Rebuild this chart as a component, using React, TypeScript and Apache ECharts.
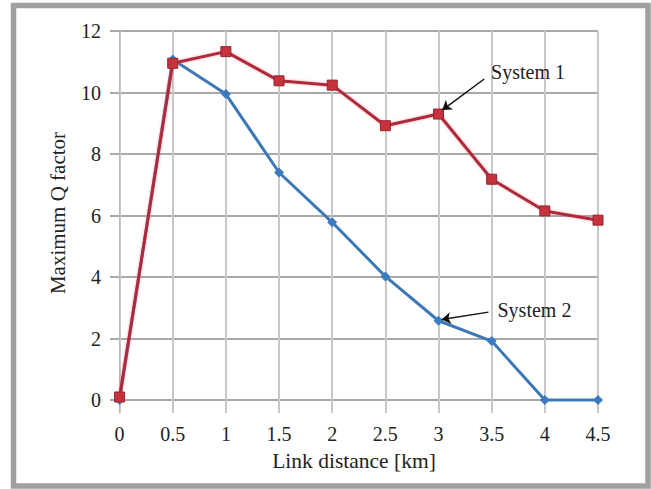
import React, { useEffect, useRef } from "react";
import * as echarts from "echarts";

const distances = [0, 0.5, 1, 1.5, 2, 2.5, 3, 3.5, 4, 4.5];
const system1 = [0.1, 10.95, 11.33, 10.38, 10.24, 8.92, 9.3, 7.18, 6.15, 5.85];
const system2 = [0, 11.07, 9.95, 7.4, 5.78, 4.02, 2.58, 1.92, 0, 0];
const xTicks = [0, 0.5, 1, 1.5, 2, 2.5, 3, 3.5, 4, 4.5];
const yTicks = [0, 2, 4, 6, 8, 10, 12];

const FONT = "'Liberation Serif', 'DejaVu Serif', serif";

export default function App() {
  const ref = useRef<HTMLDivElement>(null);

  useEffect(() => {
    document.body.style.margin = "0";
    if (!ref.current) return;
    const chart = echarts.init(ref.current, undefined, { renderer: "svg" });
    const option: any = {
      animation: false,
      backgroundColor: "#ffffff",
      graphic: [
        {
          type: "rect",
          z: -10,
          shape: { x: 13.5, y: 5.5, width: 634.5, height: 480.5 },
          style: { fill: "none", stroke: "#a0a0a0", lineWidth: 5.5 },
        },
      ],
      grid: { left: 110, right: 53, top: 31, bottom: 76 },
      xAxis: {
        type: "value",
        min: -0.09,
        max: 4.5,
        name: "Link distance [km]",
        nameLocation: "middle",
        nameGap: 37,
        nameTextStyle: { fontFamily: FONT, fontSize: 21.5, color: "#222" },
        axisLine: { show: false },
        axisTick: { show: false, customValues: xTicks },
        axisLabel: {
          customValues: xTicks,
          fontFamily: FONT,
          fontSize: 20,
          color: "#222",
          margin: 11,
          formatter: (v: number) => String(v),
        },
        splitLine: { show: true, lineStyle: { color: "#c8c8c8", width: 2 } },
      },
      yAxis: {
        type: "value",
        min: -0.42,
        max: 12,
        name: "Maximum Q factor",
        nameLocation: "middle",
        nameGap: 42,
        nameTextStyle: {
          fontFamily: FONT,
          fontSize: 21,
          color: "#222",
          padding: [0, 0, 0, 18],
        },
        axisLine: { show: true, lineStyle: { color: "#b8b8b8", width: 1 } },
        axisTick: { show: false, customValues: yTicks },
        axisLabel: {
          customValues: yTicks,
          fontFamily: FONT,
          fontSize: 20,
          color: "#222",
          margin: 9,
          formatter: (v: number) => String(v),
        },
        splitLine: { show: true, lineStyle: { color: "#a8a8a8", width: 2 } },
      },
      series: [
        {
          name: "System 2",
          type: "line",
          data: distances.map((d, i) => [d, system2[i]]),
          symbol: "diamond",
          symbolSize: 10,
          lineStyle: { color: "#3d78b6", width: 3 },
          itemStyle: { color: "#3b7cc0" },
          emphasis: { disabled: true },
          markLine: {
            silent: true,
            symbol: ["none", "arrow"],
            symbolSize: 9,
            label: { show: false },
            lineStyle: { color: "#111", width: 1.5, type: "solid" },
            data: [[{ coord: [3.47, 2.86] }, { coord: [3.03, 2.62] }]],
          },
          markPoint: {
            silent: true,
            symbol: "circle",
            symbolSize: 1,
            itemStyle: { color: "transparent" },
            label: {
              show: true,
              position: "right",
              distance: 0,
              formatter: "{b}",
              fontFamily: FONT,
              fontSize: 20,
              color: "#222",
            },
            data: [{ name: "System 2", coord: [3.55, 2.93] }],
          },
        },
        {
          name: "System 1",
          type: "line",
          data: distances.map((d, i) => [d, system1[i]]),
          symbol: "rect",
          symbolSize: 10,
          lineStyle: {
            color: "#ad2c3a",
            width: 3,
            shadowColor: "rgba(255,110,130,0.6)",
            shadowBlur: 3,
          },
          itemStyle: { color: "#c8323c", borderColor: "#932530", borderWidth: 1 },
          emphasis: { disabled: true },
          markLine: {
            silent: true,
            symbol: ["none", "arrow"],
            symbolSize: 9,
            label: { show: false },
            lineStyle: { color: "#111", width: 1.5, type: "solid" },
            data: [[{ coord: [3.43, 10.44] }, { coord: [3.035, 9.43] }]],
          },
          markPoint: {
            silent: true,
            symbol: "circle",
            symbolSize: 1,
            itemStyle: { color: "transparent" },
            label: {
              show: true,
              position: "right",
              distance: 0,
              formatter: "{b}",
              fontFamily: FONT,
              fontSize: 20,
              color: "#222",
            },
            data: [{ name: "System 1", coord: [3.49, 10.67] }],
          },
        },
      ],
    };
    chart.setOption(option);
    return () => chart.dispose();
  }, []);

  return <div ref={ref} style={{ width: 651, height: 489 }} />;
}
